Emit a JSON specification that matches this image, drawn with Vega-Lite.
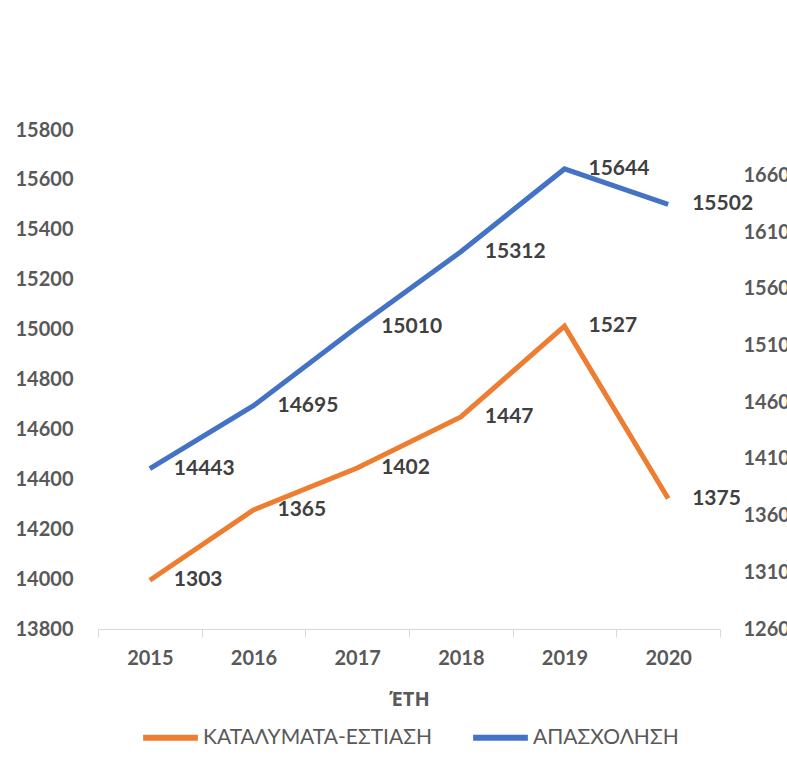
{
  "$schema": "https://vega.github.io/schema/vega-lite/v6.json",
  "autosize": {"type": "none"},
  "width": 622,
  "height": 499,
  "padding": {"left": 98, "top": 130, "right": 67, "bottom": 141},
  "background": "white",
  "config": {"view": {"stroke": null}, "font": "Lato"},
  "data": {
    "values": [
      {"year": "2015", "series": "ΑΠΑΣΧΟΛΗΣΗ", "value": 14443},
      {"year": "2016", "series": "ΑΠΑΣΧΟΛΗΣΗ", "value": 14695},
      {"year": "2017", "series": "ΑΠΑΣΧΟΛΗΣΗ", "value": 15010},
      {"year": "2018", "series": "ΑΠΑΣΧΟΛΗΣΗ", "value": 15312},
      {"year": "2019", "series": "ΑΠΑΣΧΟΛΗΣΗ", "value": 15644},
      {"year": "2020", "series": "ΑΠΑΣΧΟΛΗΣΗ", "value": 15502},
      {"year": "2015", "series": "ΚΑΤΑΛΥΜΑΤΑ-ΕΣΤΙΑΣΗ", "value": 1303},
      {"year": "2016", "series": "ΚΑΤΑΛΥΜΑΤΑ-ΕΣΤΙΑΣΗ", "value": 1365},
      {"year": "2017", "series": "ΚΑΤΑΛΥΜΑΤΑ-ΕΣΤΙΑΣΗ", "value": 1402},
      {"year": "2018", "series": "ΚΑΤΑΛΥΜΑΤΑ-ΕΣΤΙΑΣΗ", "value": 1447},
      {"year": "2019", "series": "ΚΑΤΑΛΥΜΑΤΑ-ΕΣΤΙΑΣΗ", "value": 1527},
      {"year": "2020", "series": "ΚΑΤΑΛΥΜΑΤΑ-ΕΣΤΙΑΣΗ", "value": 1375}
    ]
  },
  "encoding": {
    "x": {
      "field": "year",
      "type": "ordinal",
      "bandPosition": 0.5,
      "scale": {"type": "band", "paddingInner": 0, "paddingOuter": 0},
      "axis": {
        "title": "ΈΤΗ",
        "titleFont": "Open Sans",
        "titleFontSize": 20,
        "titleFontWeight": "bold",
        "titleColor": "#595959",
        "titlePadding": 21,
        "labelAngle": 0,
        "labelFontSize": 20,
        "labelFontWeight": "bold",
        "labelColor": "#595959",
        "labelPadding": 11,
        "tickBand": "extent",
        "tickSize": 8,
        "tickColor": "#d9d9d9",
        "domainColor": "#d9d9d9",
        "grid": false
      }
    }
  },
  "layer": [
    {
      "transform": [{"filter": "datum.series === 'ΑΠΑΣΧΟΛΗΣΗ'"}],
      "encoding": {
        "y": {
          "field": "value",
          "type": "quantitative",
          "scale": {"domain": [13800, 15800], "nice": false, "zero": false},
          "axis": {
            "orient": "left",
            "title": null,
            "format": "d",
            "values": [13800, 14000, 14200, 14400, 14600, 14800, 15000, 15200, 15400, 15600, 15800],
            "domain": false,
            "ticks": false,
            "grid": false,
            "labelPadding": 25,
            "labelFontSize": 20,
            "labelFontWeight": "bold",
            "labelColor": "#595959"
          }
        }
      },
      "layer": [
        {
          "mark": {"type": "line", "strokeWidth": 5},
          "encoding": {
            "color": {
              "field": "series",
              "type": "nominal",
              "scale": {"domain": ["ΚΑΤΑΛΥΜΑΤΑ-ΕΣΤΙΑΣΗ", "ΑΠΑΣΧΟΛΗΣΗ"], "range": ["#ED7D31", "#4472C4"]},
              "legend": {
                "title": null,
                "orient": "none",
                "legendX": 42,
                "legendY": 577,
                "direction": "horizontal",
                "symbolType": "stroke",
                "symbolStrokeWidth": 6,
                "symbolSize": 3000,
                "labelFont": "Lato",
                "labelFontSize": 21,
                "labelColor": "#595959",
                "labelLimit": 400,
                "labelOffset": 2,
                "columnPadding": 28
              }
            }
          }
        },
        {
          "mark": {"type": "text", "align": "left", "baseline": "middle", "dx": 24, "fontSize": 21, "fontWeight": "bold", "color": "#404040"},
          "encoding": {"text": {"field": "value", "type": "quantitative", "format": "d"}}
        }
      ]
    },
    {
      "transform": [{"filter": "datum.series === 'ΚΑΤΑΛΥΜΑΤΑ-ΕΣΤΙΑΣΗ'"}],
      "encoding": {
        "y": {
          "field": "value",
          "type": "quantitative",
          "scale": {"domain": [1260, 1700], "nice": false, "zero": false},
          "axis": {
            "orient": "right",
            "title": null,
            "format": "d",
            "values": [1260, 1310, 1360, 1410, 1460, 1510, 1560, 1610, 1660],
            "domain": false,
            "ticks": false,
            "grid": false,
            "labelPadding": 23,
            "labelFontSize": 20,
            "labelFontWeight": "bold",
            "labelColor": "#595959"
          }
        }
      },
      "layer": [
        {
          "mark": {"type": "line", "strokeWidth": 5},
          "encoding": {
            "color": {"field": "series", "type": "nominal"}
          }
        },
        {
          "mark": {"type": "text", "align": "left", "baseline": "middle", "dx": 24, "fontSize": 21, "fontWeight": "bold", "color": "#404040"},
          "encoding": {"text": {"field": "value", "type": "quantitative", "format": "d"}}
        }
      ]
    }
  ],
  "resolve": {"scale": {"y": "independent"}}
}
